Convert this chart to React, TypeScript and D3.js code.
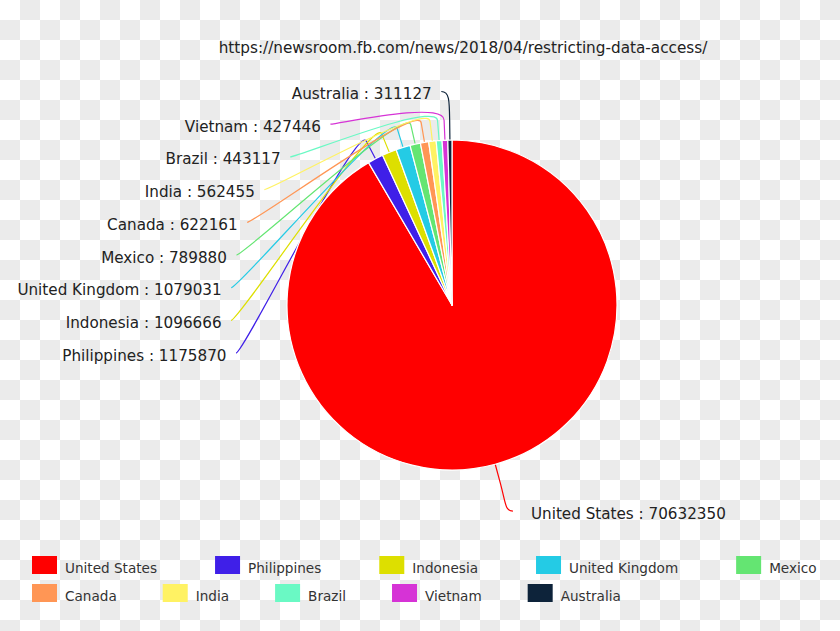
import React, { useEffect } from 'react';
import * as d3 from 'd3';

// ---- data ----
const countries = ['United States', 'Philippines', 'Indonesia', 'United Kingdom', 'Mexico', 'Canada', 'India', 'Brazil', 'Vietnam', 'Australia'];
const users = [70632350, 1175870, 1096666, 1079031, 789880, 622161, 562455, 443117, 427446, 311127];
const colors = ['#ff0000', '#3f1fe8', '#dddf00', '#24cbe5', '#64e572', '#ff9655', '#fff263', '#6af9c4', '#d633d6', '#0d233a'];
const titleText = 'https://newsroom.fb.com/news/2018/04/restricting-data-access/';
const legendRows = [5, 5];

// ---- layout ----
const W = 840, H = 631;
const cx = 452, cy = 305, r = 165;
const labelR = 213.5;
const bend = 20;
const lineGap = 32.7;
const FONT = '"DejaVu Sans", Verdana, sans-serif';

function measure(text: string, font: string) {
  const c = document.createElement('canvas').getContext('2d');
  if (!c) return text.length * 8;
  c.font = font;
  return c.measureText(text).width;
}

export default function App() {
  useEffect(() => {
    document.body.style.margin = '0';
  }, []);

  const data = countries.map((c, i) => ({ name: c, value: users[i], color: colors[i] }));
  const pie = d3.pie<any>().sort(null).value((d: any) => d.value);
  const arcs = pie(data);
  const arcGen = d3.arc<any>().innerRadius(0).outerRadius(r);
  const pt = (a: number, rad: number) => [cx + rad * Math.sin(a), cy - rad * Math.cos(a)];

  const labels = arcs.map((a: any) => {
    const mid = (a.startAngle + a.endAngle) / 2;
    const side = mid > Math.PI ? -1 : 1;
    const [, ny] = pt(mid, labelR);
    return { a, mid, side, ny, y: ny, px: 0 };
  });
  [-1, 1].forEach((s) => {
    const group = labels.filter((l) => l.side === s).sort((p, q) => p.ny - q.ny);
    let prev = -Infinity;
    group.forEach((l) => {
      l.y = Math.max(l.ny, prev + lineGap);
      prev = l.y;
    });
  });
  labels.forEach((l) => {
    const dy = l.y - cy;
    const nx = cx + l.side * Math.sqrt(Math.max(0, labelR * labelR - dy * dy));
    l.px = nx + l.side * (l.side < 0 ? 8 : 5);
  });

  const connector = (l: any) => {
    const A = pt(l.mid, r);
    const B = pt(l.mid, r + bend);
    const C2 = pt(l.mid, r + 2 * bend);
    const p = d3.path();
    p.moveTo(l.px, l.y);
    p.bezierCurveTo(l.px - l.side * 8, l.y, C2[0], C2[1], B[0], B[1]);
    p.lineTo(A[0], A[1]);
    return p.toString();
  };

  // legend layout
  const legSize = 13.6;
  const legFont = `${legSize}px ${FONT}`;
  const rowGaps = [58, 46];
  const legendItems: any[] = [];
  let idx = 0;
  legendRows.forEach((n, row) => {
    let x = 32;
    for (let k = 0; k < n; k++, idx++) {
      legendItems.push({ name: countries[idx], color: colors[idx], x, y: 556 + row * 28 });
      x += 33 + measure(countries[idx], legFont) + rowGaps[row];
    }
  });

  return (
    <svg width={W} height={H} style={{ position: 'absolute', left: 0, top: 0, display: 'block' }} fontFamily={FONT}>
      <defs>
        <pattern id="checker" width={40} height={40} patternUnits="userSpaceOnUse">
          <rect width={40} height={40} fill="#ffffff" />
          <rect x={20} y={0} width={20} height={20} fill="#ebebeb" />
          <rect x={0} y={20} width={20} height={20} fill="#ebebeb" />
        </pattern>
      </defs>
      <rect width={W} height={H} fill="url(#checker)" />

      <text x={463} y={53} textAnchor="middle" fontSize={15.25} fill="#222">{titleText}</text>

      <g>
        {labels.map((l, i) => (
          <path key={'c' + i} d={connector(l)} fill="none" stroke={l.a.data.color} strokeWidth={1.2} />
        ))}
      </g>
      <g transform={`translate(${cx},${cy})`}>
        {arcs.map((a: any, i: number) => (
          <path key={i} d={arcGen(a) as string} fill={a.data.color} stroke="#ffffff" strokeWidth={1.2} strokeLinejoin="round" />
        ))}
      </g>
      <g>
        {labels.map((l, i) => (
          <text key={'t' + i} x={l.px + l.side * (l.side < 0 ? 9.5 : 18)} y={l.y + 7.5} textAnchor={l.side < 0 ? 'end' : 'start'} fontSize={15.2} fill="#222">
            {`${l.a.data.name} : ${l.a.data.value}`}
          </text>
        ))}
      </g>
      <g>
        {legendItems.map((it, i) => (
          <g key={'l' + i} transform={`translate(${it.x},${it.y})`}>
            <rect width={25} height={18} fill={it.color} />
            <text x={33} y={17} fontSize={legSize} fill="#333">{it.name}</text>
          </g>
        ))}
      </g>
    </svg>
  );
}
